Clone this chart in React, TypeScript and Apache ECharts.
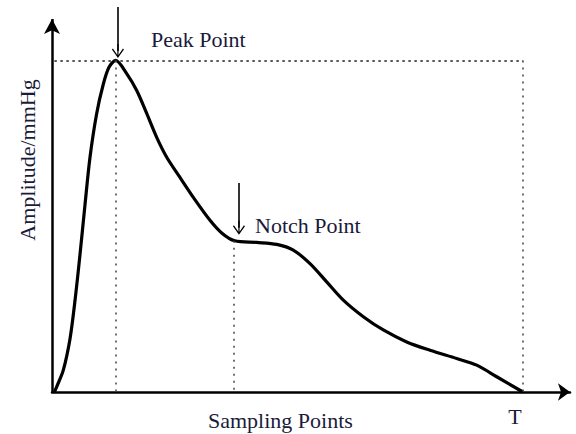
import React, { useEffect, useRef } from "react";
import * as echarts from "echarts";

// Sampling positions (T = 100) and pulse amplitude (peak = 100)
const samplingX = [
  0.5, 1.06, 2.4, 3.82, 4.88, 5.95, 7.01, 8.07, 9.49, 10.89, 12.1, 13.53,
  15.86, 17.99, 20.11, 22.23, 24.36, 27.18, 30.01, 33.55, 36.1, 38.8, 43.47,
  47.72, 51.24, 54.79, 58.33, 61.86, 66.11, 70.35, 75.32, 80.27, 85.94, 90.19,
  94.44, 100,
];
const amplitude = [
  0, 1.8, 6.6, 16.0, 27.5, 41.5, 56.5, 70.8, 84.0, 92.8, 97.9, 100, 96.0, 90.9,
  84.0, 76.8, 70.8, 64.7, 58.7, 51.8, 47.9, 45.6, 45.1, 44.5, 42.8, 38.7, 33.2,
  27.7, 22.7, 18.7, 15.1, 12.6, 10.1, 8.1, 4.6, 0,
];
const peakPoint = [13.53, 100];
const notchPoint = [38.7, 45.6];
const periodT = 100;
// arrow annotations: [x, yStart, yEnd]
const peakArrow = [14.0, 116.1, 102.8];
const notchArrow = [39.7, 63.0, 49.5];
const axisRange = { xMax: 110, yMax: 117, yArrowTop: 112.5 };

const xAxisTitle = "Sampling Points";
const yAxisTitle = "Amplitude/mmHg";
const periodLabel = "T";
const peakLabel = "Peak Point";
const notchLabel = "Notch Point";

const chevron =
  "path://M6,0 L12,8.5 L11,9.5 L6.6,3 L6.6,14 L5.4,14 L5.4,3 L1,9.5 L0,8.5 Z";

export default function App() {
  const ref = useRef<HTMLDivElement>(null);
  useEffect(() => {
    document.body.style.margin = "0";
    if (!ref.current) return;
    const chart = echarts.init(ref.current, null, { renderer: "svg" });
    const family = "Liberation Serif";
    const textColor = "#1a1a3a";
    const dotH = { color: "#222", width: 1.5, type: [2.5, 3.5] as any };
    const dotV = { color: "#444", width: 1.5, type: [2, 5] as any };
    const solid = { color: "#000", width: 1.6, type: "solid" as any };
    const seg = (
      a: number[],
      b: number[],
      style: any,
      endSymbol = "none",
      endSize: any = 10
    ) => [
      { coord: a, symbol: "none", lineStyle: style },
      { coord: b, symbol: endSymbol, symbolSize: endSize },
    ];
    const txt = (
      text: string,
      x: number,
      y: number,
      align: string,
      rotation = 0
    ) => ({
      type: "text",
      x,
      y,
      rotation,
      style: {
        text,
        fontFamily: family,
        fontSize: 22,
        fill: textColor,
        textAlign: align,
        textVerticalAlign: "middle",
      },
    });
    chart.setOption({
      animation: false,
      backgroundColor: "#fff",
      grid: { left: 52, right: 6, top: 4, bottom: 42 },
      xAxis: {
        type: "value",
        min: 0,
        max: axisRange.xMax,
        axisLine: {
          show: true,
          lineStyle: { color: "#000", width: 2.5 },
          symbol: ["none", "arrow"],
          symbolSize: [13, 12],
        },
        axisTick: { show: false },
        axisLabel: { show: false },
        splitLine: { show: false },
      },
      yAxis: {
        type: "value",
        min: 0,
        max: axisRange.yMax,
        axisLine: { show: false },
        axisTick: { show: false },
        axisLabel: { show: false },
        splitLine: { show: false },
      },
      series: [
        {
          type: "line",
          data: samplingX.map((x, i) => [x, amplitude[i]]),
          smooth: 0.3,
          showSymbol: false,
          symbol: "none",
          clip: false,
          lineStyle: { color: "#000", width: 3.2 },
          silent: true,
          markLine: {
            silent: true,
            animation: false,
            symbol: ["none", "none"],
            label: { show: false },
            emphasis: { disabled: true },
            data: [
              seg(
                [0, 0],
                [0, axisRange.yArrowTop],
                { color: "#000", width: 2.5, type: "solid" },
                "arrow",
                [12, 15]
              ),
              seg([0.5, peakPoint[1]], [periodT, peakPoint[1]], dotH),
              seg([periodT, peakPoint[1]], [periodT, 0], dotV),
              seg([peakPoint[0], peakPoint[1]], [peakPoint[0], 0], dotV),
              seg([notchPoint[0], notchPoint[1]], [notchPoint[0], 0], dotV),
              seg(
                [peakArrow[0], peakArrow[1]],
                [peakArrow[0], peakArrow[2]],
                solid,
                chevron,
                [12, 14]
              ),
              seg(
                [notchArrow[0], notchArrow[1]],
                [notchArrow[0], notchArrow[2]],
                solid,
                chevron,
                [12, 14]
              ),
            ],
          },
        },
      ],
      graphic: [
        txt(peakLabel, 151, 39, "left"),
        txt(notchLabel, 255, 225, "left"),
        txt(xAxisTitle, 208, 420, "left"),
        txt(periodLabel, 515, 416, "center"),
        txt(yAxisTitle, 27, 160, "center", Math.PI / 2),
      ],
    });
    return () => chart.dispose();
  }, []);
  return <div ref={ref} style={{ width: 576, height: 434 }} />;
}
